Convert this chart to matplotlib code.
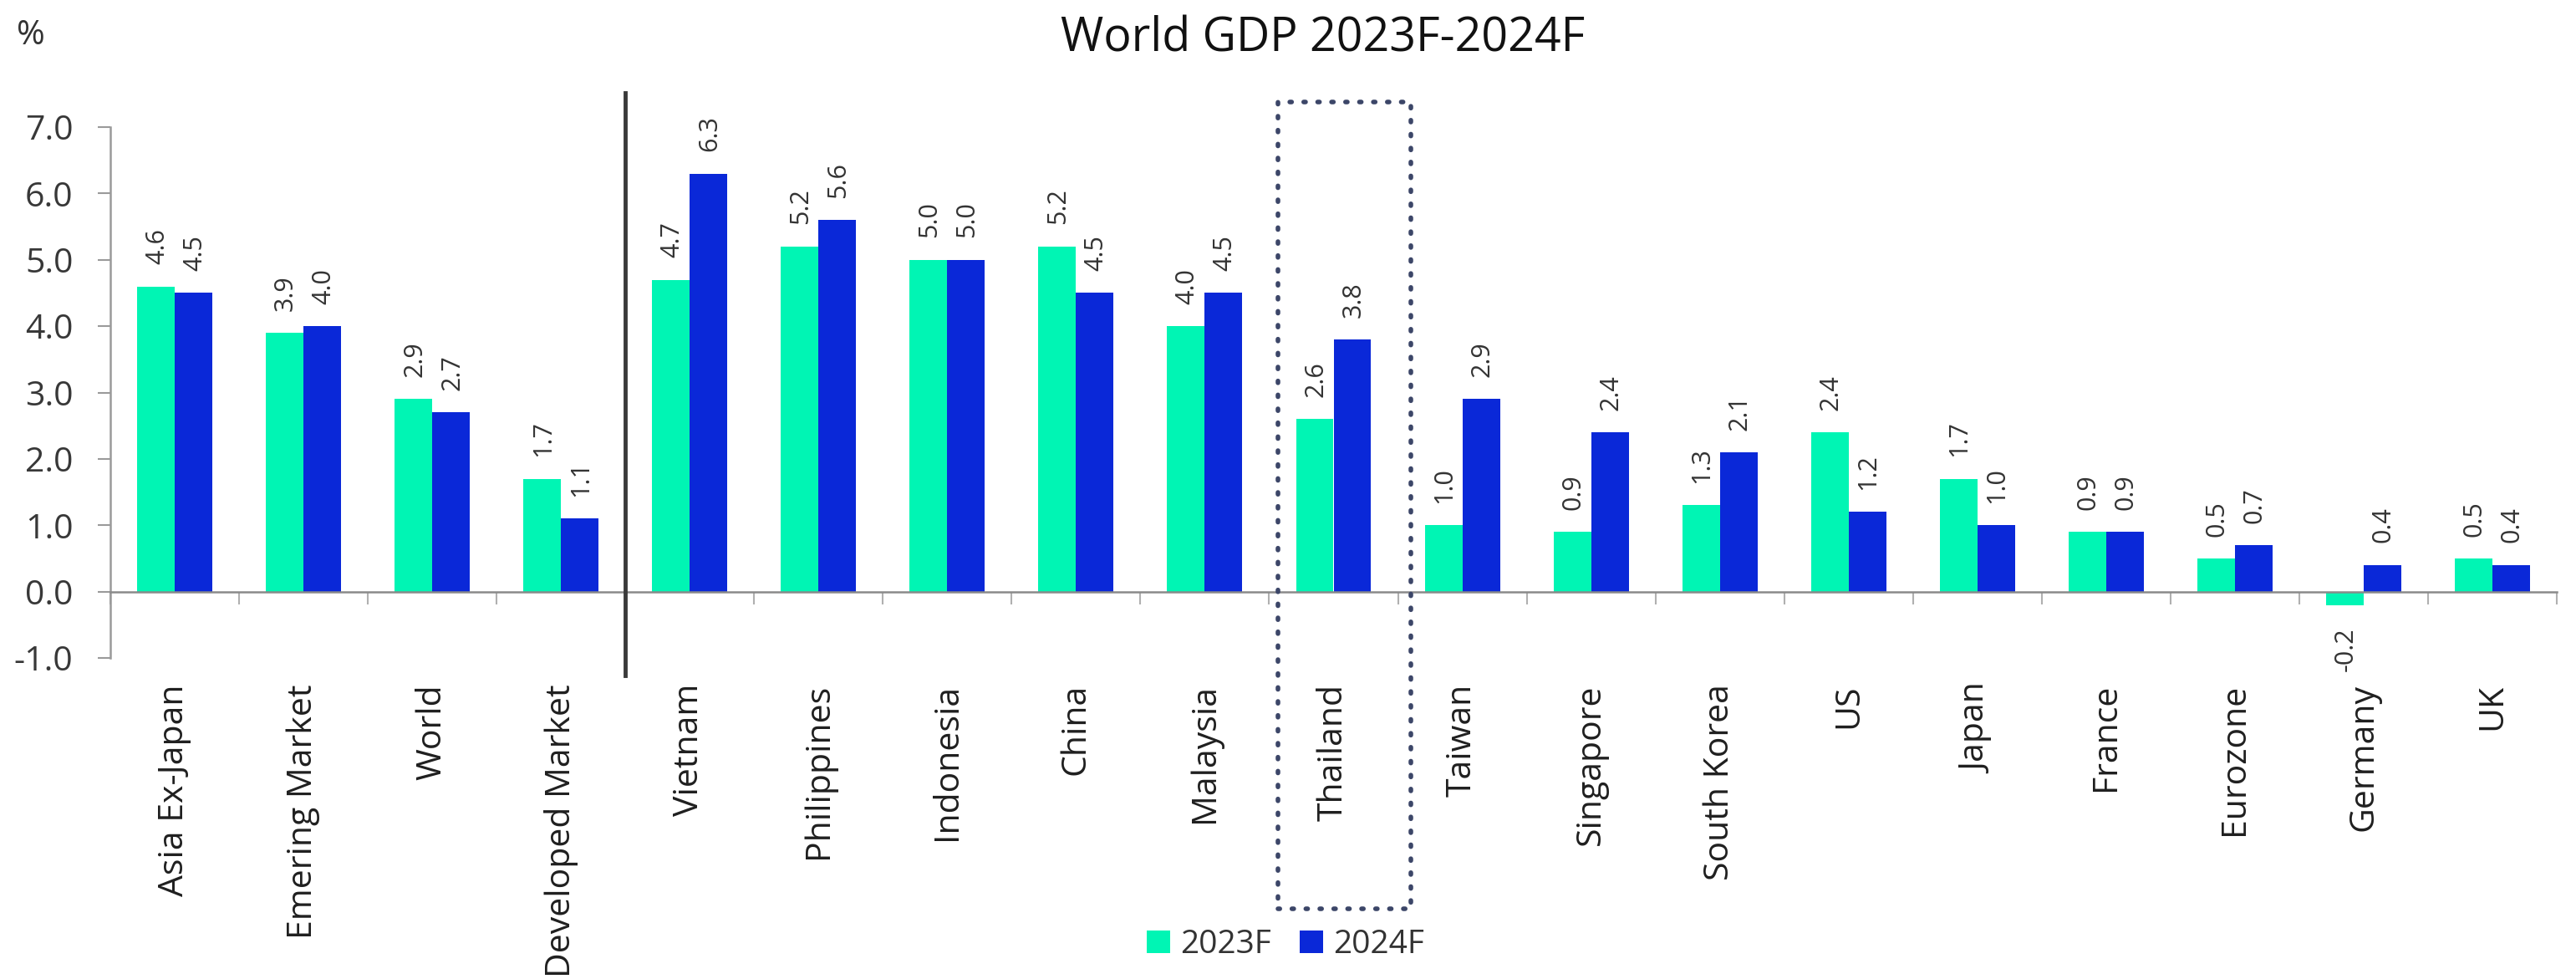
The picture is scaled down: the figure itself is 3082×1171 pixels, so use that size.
import matplotlib
matplotlib.use("Agg")
import matplotlib.pyplot as plt
from matplotlib.patches import Rectangle
import numpy as np

plt.rcParams['font.family'] = ['Open Sans', 'DejaVu Sans']
plt.rcParams['axes.unicode_minus'] = False

# dane z wykresu
categories = ["Asia Ex-Japan", "Emering Market", "World", "Developed Market",
              "Vietnam", "Philippines", "Indonesia", "China", "Malaysia", "Thailand",
              "Taiwan", "Singapore", "South Korea", "US", "Japan", "France",
              "Eurozone", "Germany", "UK"]
gdp_2023 = [4.6, 3.9, 2.9, 1.7, 4.7, 5.2, 5.0, 5.2, 4.0, 2.6,
            1.0, 0.9, 1.3, 2.4, 1.7, 0.9, 0.5, -0.2, 0.5]
gdp_2024 = [4.5, 4.0, 2.7, 1.1, 6.3, 5.6, 5.0, 4.5, 4.5, 3.8,
            2.9, 2.4, 2.1, 1.2, 1.0, 0.9, 0.7, 0.4, 0.4]
series_names = ["2023F", "2024F"]
yticks = [-1.0, 0.0, 1.0, 2.0, 3.0, 4.0, 5.0, 6.0, 7.0]
n_aggregates = 4          # grupy regionalne przed linia
highlight = "Thailand"

green = "#00f5b4"
blue = "#0a28d8"
gray = "#9a9a9a"

W, H = 3082, 1171
fig = plt.figure(figsize=(W / 100, H / 100), dpi=100)
ax = fig.add_axes([132 / W, 1 - 787 / H, (3059 - 132) / W, (787 - 152) / H])

x = np.arange(len(categories))
bw = 0.292
b1 = ax.bar(x - bw / 2, gdp_2023, bw, color=green, label=series_names[0], zorder=2)
b2 = ax.bar(x + bw / 2, gdp_2024, bw, color=blue, label=series_names[1], zorder=2)

# etykiety wartosci (pionowe)
for bars, vals in [(b1, gdp_2023), (b2, gdp_2024)]:
    for rect, v in zip(bars, vals):
        cx = rect.get_x() + rect.get_width() / 2
        if v >= 0:
            ax.annotate(f"{v:.1f}", (cx, v), xytext=(1, 19), textcoords="offset points",
                        rotation=90, ha="center", va="bottom", fontsize=22, color="#333333")
        else:
            ax.annotate(f"{v:.1f}", (cx, v), xytext=(1, -19), textcoords="offset points",
                        rotation=90, ha="center", va="top", fontsize=22, color="#333333")

ax.set_xlim(-0.5, len(categories) - 0.5)
ax.set_ylim(-1, 7)
ax.set_yticks(yticks)
ax.set_yticklabels([f"{t:.1f}" for t in yticks])
ax.tick_params(axis="y", length=11, width=1.5, color=gray, pad=21, labelsize=29.5,
               labelcolor="#383838")

ax.spines["top"].set_visible(False)
ax.spines["right"].set_visible(False)
ax.spines["left"].set_color(gray)
ax.spines["left"].set_linewidth(1.8)
ax.spines["bottom"].set_position(("data", 0))
ax.spines["bottom"].set_color("#8a8a8a")
ax.spines["bottom"].set_linewidth(1.8)

bounds = [b for b in np.arange(-0.5, len(categories), 1.0) if b != n_aggregates - 0.5]
ax.set_xticks(bounds)
ax.set_xticklabels([])
ax.tick_params(axis="x", length=11, width=1.5, color="#b0b0b0", direction="out")

# nazwy krajow pod osia
for i, name in enumerate(categories):
    ax.text(i, -0.049, name, transform=ax.get_xaxis_transform(), rotation=90,
            ha="center", va="top", fontsize=29.5, color="#1f1f1f")

# linia oddzielajaca regiony od krajow
sep = n_aggregates - 0.5
ax.plot([sep, sep], [7.52, -1.26], color="#3a3a3a", lw=3.5, clip_on=False, zorder=3)

# ramka wokol Tajlandii
hi = categories.index(highlight)
box = Rectangle((hi - 0.43, -4.78), 1.03, 7.38 + 4.78, fill=False, edgecolor="#3c4668",
                lw=4, linestyle=(0, (0.4, 2.6)), capstyle="round", clip_on=False, zorder=3)
ax.add_patch(box)

fig.text(1583 / W, 1 - 47 / H, "World GDP 2023F-2024F", ha="center", va="center",
         fontsize=40, color="#111111")
fig.text(37 / W, 1 - 43 / H, "%", ha="center", va="center", fontsize=29.5, color="#333333")

fig.legend(handles=[b1, b2], labels=series_names, loc="center", ncol=2,
           bbox_to_anchor=(1538 / W, 1 - 1130 / H), frameon=False, fontsize=28,
           handlelength=0.72, handleheight=0.72, handletextpad=0.3, columnspacing=0.9,
           labelcolor="#333333")

fig.savefig("out.png", dpi=100, facecolor="white")
